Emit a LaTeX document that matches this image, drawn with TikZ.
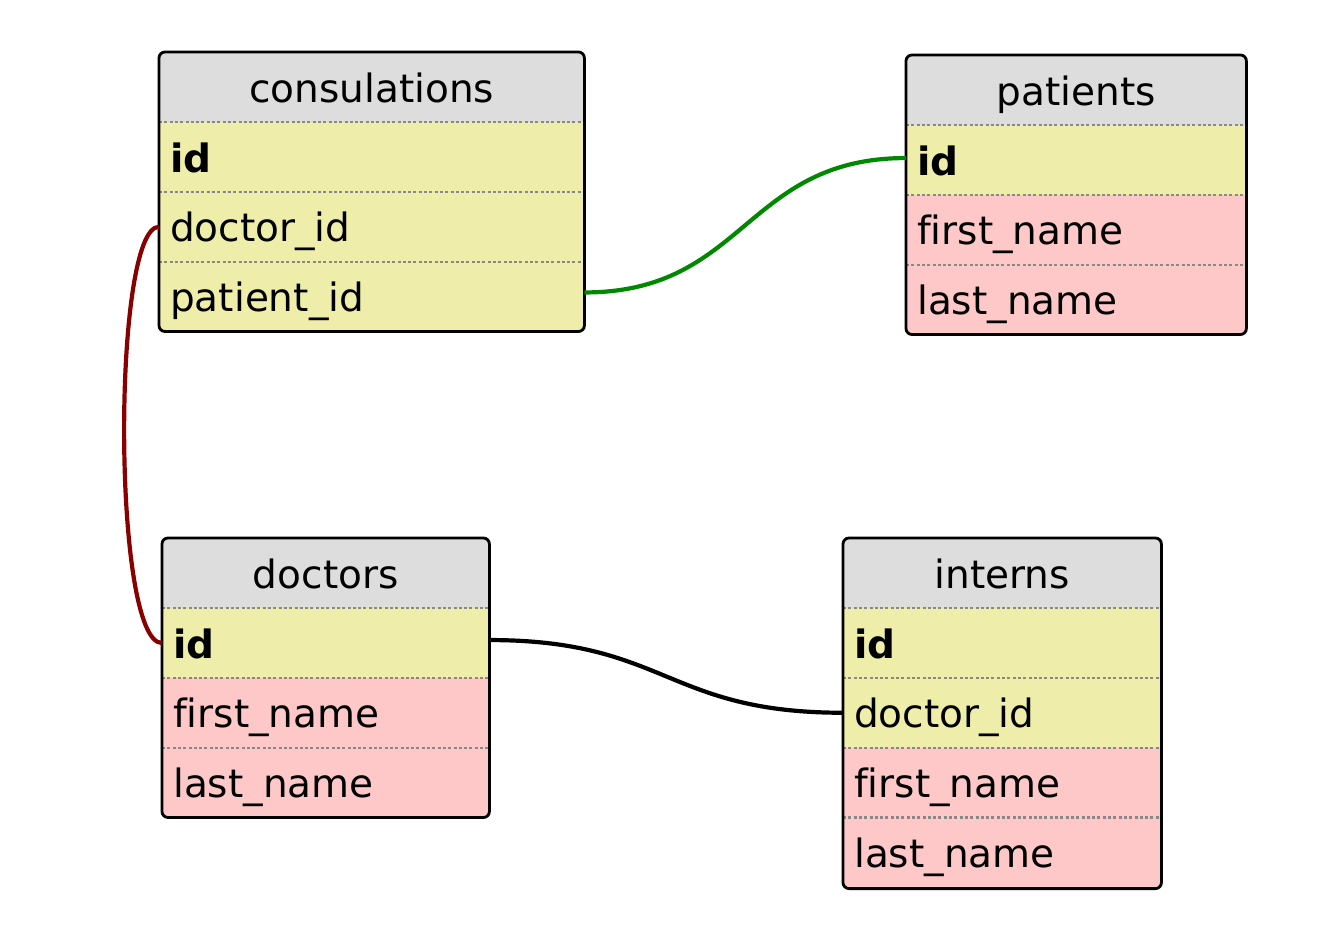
\documentclass[tikz,border=0pt]{standalone}
\usepackage{fontspec}
\setmainfont[Ligatures=NoCommon]{DejaVu Sans}
\definecolor{hdrgray}{HTML}{DDDDDD}
\definecolor{keyyellow}{HTML}{EEEEAA}
\definecolor{attrpink}{HTML}{FFC8C8}
\definecolor{sepgray}{HTML}{888888}
\definecolor{fkred}{HTML}{880000}
\definecolor{fkgreen}{HTML}{008800}
\begin{document}
\begin{tikzpicture}[x=1pt,y=-1pt,
  font=\fontsize{39}{43}\selectfont,
  cell/.style={anchor=north west, minimum height=69.7pt, inner xsep=11pt, inner ysep=0pt,
    text height=36pt, text depth=6pt, align=left},
  hdr/.style={cell, fill=hdrgray, align=center},
  keyrow/.style={cell, fill=keyyellow},
  attrrow/.style={cell, fill=attrpink},
  sep/.style={draw=sepgray, line width=2.6pt, dash pattern=on 3pt off 2.3pt},
  border/.style={draw=black, line width=2.8pt, rounded corners=6pt},
  fk/.style={line width=4.2pt}]
\useasboundingbox (0,0) rectangle (1330,944);

% ---------- consulations ----------
\begin{scope}
\clip[rounded corners=6pt] (159,52) rectangle (584,331.1);
\node[hdr, text width=403pt] (cons-h) at (159,52) {consulations};
\node[keyrow, text width=403pt] (cons-1) at (159,122) {\bfseries id};
\node[keyrow, text width=403pt] (cons-2) at (159,191.7) {doctor\_id};
\node[keyrow, text width=403pt] (cons-3) at (159,261.4) {patient\_id};
\end{scope}
\draw[sep] (cons-h.south west) -- (cons-h.south east);
\draw[sep] (cons-1.south west) -- (cons-1.south east);
\draw[sep] (cons-2.south west) -- (cons-2.south east);
\draw[border] (cons-h.north west) rectangle (cons-3.south east);

% ---------- patients ----------
\begin{scope}
\clip[rounded corners=6pt] (906,55) rectangle (1246,334.1);
\node[hdr, text width=318pt] (pat-h) at (906,55) {patients};
\node[keyrow, text width=318pt] (pat-1) at (906,125) {\bfseries id};
\node[attrrow, text width=318pt] (pat-2) at (906,194.7) {first\_name};
\node[attrrow, text width=318pt] (pat-3) at (906,264.4) {last\_name};
\end{scope}
\draw[sep] (pat-h.south west) -- (pat-h.south east);
\draw[sep] (pat-1.south west) -- (pat-1.south east);
\draw[sep] (pat-2.south west) -- (pat-2.south east);
\draw[border] (pat-h.north west) rectangle (pat-3.south east);

% ---------- doctors ----------
\begin{scope}
\clip[rounded corners=6pt] (162,538) rectangle (489,817.1);
\node[hdr, text width=305pt] (doc-h) at (162,538) {doctors};
\node[keyrow, text width=305pt] (doc-1) at (162,608) {\bfseries id};
\node[attrrow, text width=305pt] (doc-2) at (162,677.7) {first\_name};
\node[attrrow, text width=305pt] (doc-3) at (162,747.4) {last\_name};
\end{scope}
\draw[sep] (doc-h.south west) -- (doc-h.south east);
\draw[sep] (doc-1.south west) -- (doc-1.south east);
\draw[sep] (doc-2.south west) -- (doc-2.south east);
\draw[border] (doc-h.north west) rectangle (doc-3.south east);

% ---------- interns ----------
\begin{scope}
\clip[rounded corners=6pt] (843,538) rectangle (1161,888.5);
\node[hdr, text width=296pt] (int-h) at (843,538) {interns};
\node[keyrow, text width=296pt] (int-1) at (843,608) {\bfseries id};
\node[keyrow, text width=296pt] (int-2) at (843,677.7) {doctor\_id};
\node[attrrow, text width=296pt] (int-3) at (843,747.4) {first\_name};
\node[attrrow, text width=296pt, minimum height=71.1pt] (int-4) at (843,817.1) {last\_name};
\end{scope}
\draw[sep] (int-h.south west) -- (int-h.south east);
\draw[sep] (int-1.south west) -- (int-1.south east);
\draw[sep] (int-2.south west) -- (int-2.south east);
\draw[sep] (int-3.south west) -- (int-3.south east);
\draw[border] (int-h.north west) rectangle (int-4.south east);

% ---------- connectors ----------
\draw[fk, fkred] (cons-2.west) .. controls +(-47,0) and +(-50,0) .. (doc-1.west);
\draw[fk, fkgreen] ([yshift=4pt]cons-3.east) .. controls +(161,0) and +(-161,0) .. ([yshift=2pt]pat-1.west);
\draw[fk, black] ([yshift=3pt]doc-1.east) .. controls +(177,0) and +(-177,0) .. (int-2.west);
\end{tikzpicture}
\end{document}
